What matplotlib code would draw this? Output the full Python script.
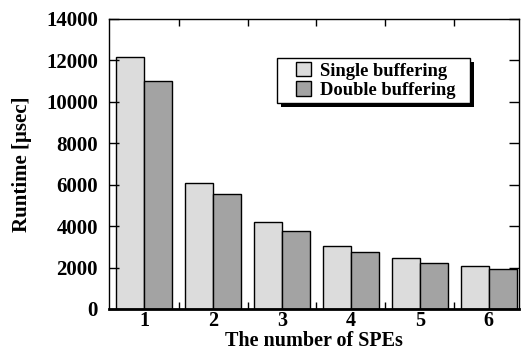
import matplotlib.pyplot as plt
import matplotlib.transforms as mtransforms
from matplotlib.patches import Rectangle
import numpy as np

spes = [1, 2, 3, 4, 5, 6]
single_buf = [12150, 6070, 4190, 3040, 2480, 2090]
double_buf = [11020, 5540, 3780, 2750, 2240, 1915]
yticks = [0, 2000, 4000, 6000, 8000, 10000, 12000, 14000]

plt.rcParams["font.family"] = "Liberation Serif"
plt.rcParams["font.weight"] = "bold"

fig = plt.figure(figsize=(5.22, 3.5), dpi=100)
ax = fig.add_axes([109 / 522, 41 / 350, 410 / 522, 290 / 350])

x = np.arange(len(spes)) + 1
w = 0.405
ax.bar(x - w / 2, single_buf, w, color="#dcdcdc", edgecolor="black", linewidth=1.0,
       label="Single buffering")
ax.bar(x + w / 2, double_buf, w, color="#a3a3a3", edgecolor="black", linewidth=1.0,
       label="Double buffering")

ax.set_xlim(0.49, 6.44)
ax.set_ylim(0, 14000)
ax.set_yticks(yticks)
ax.set_xticks(x)
ax.set_xticklabels([str(s) for s in spes])
ax.set_xticks(x[:-1] + 0.5, minor=True)

ax.tick_params(axis="y", direction="in", length=7, width=1, right=True,
               labelsize=15, pad=8)
ax.tick_params(axis="x", which="major", length=0, labelsize=14.5, pad=1.5)
ax.tick_params(axis="x", which="minor", direction="in", length=5, width=1, top=True)
for sp in ax.spines.values():
    sp.set_linewidth(1.0)
ax.spines["bottom"].set_linewidth(2.0)

ax.set_ylabel("Runtime [\u03bcsec]", fontsize=15, fontweight="bold", labelpad=10)
ax.set_xlabel("The number of SPEs", fontsize=14.5, fontweight="bold", labelpad=0)

# legend box with a hard drop shadow
bx, by, bw, bh = 0.41, 0.71, 0.47, 0.156
shadow_tr = mtransforms.offset_copy(ax.transAxes, fig=fig, x=4, y=-4, units="dots")
ax.add_patch(Rectangle((bx, by), bw, bh, transform=shadow_tr, facecolor="black",
                       edgecolor="none", zorder=4))
ax.add_patch(Rectangle((bx, by), bw, bh, transform=ax.transAxes, facecolor="white",
                       edgecolor="black", linewidth=1.0, zorder=5))

leg = ax.legend(loc="center", bbox_to_anchor=(bx + bw / 2 + 0.005, by + bh / 2), fontsize=13.3,
                frameon=False, handlelength=0.8, handleheight=0.8,
                handletextpad=0.5, borderpad=0, labelspacing=0.1, borderaxespad=0)
leg.set_zorder(6)

fig.savefig("out.png", dpi=100)
